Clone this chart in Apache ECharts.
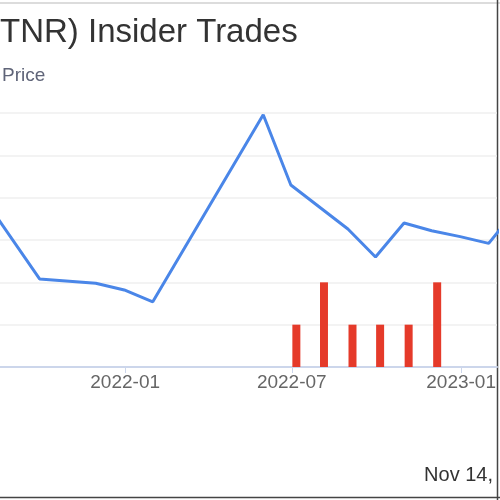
<!DOCTYPE html>
<html>
<head>
<meta charset="utf-8">
<script src="https://cdn.jsdelivr.net/npm/echarts@6/dist/echarts.min.js"></script>
<style>
  html, body { margin: 0; padding: 0; background: #fff; }
  #chart { width: 500px; height: 500px; }
</style>
</head>
<body>
<div id="chart"></div>
<script>
// ======================
// DATA
// ======================

const priceDates = [
    '2021-07-31', '2021-09-30', '2021-11-30', '2021-12-31', '2022-01-31',
    '2022-05-31', '2022-06-30', '2022-08-31', '2022-09-30', '2022-10-31',
    '2022-11-30', '2022-12-31', '2023-01-31', '2023-02-28'
];
const priceValues = [
    20.0, 10.4, 9.9, 9.1, 7.7,
    29.8, 21.5, 16.3, 13.0, 17.0,
    16.1, 15.4, 14.6, 18.4
];

const tradeDates = ['2022-07-06', '2022-08-05', '2022-09-05', '2022-10-05', '2022-11-05', '2022-12-06'];
const tradeCounts = [1, 2, 1, 1, 1, 2];

const tickDates = ['2022-01-01', '2022-07-01', '2023-01-01'];

// ======================
// CHART
// ======================

const FONT = 'Liberation Sans, Arial, sans-serif';
const chart = echarts.init(document.getElementById('chart'), null, { renderer: 'canvas' });

// dates -> timestamps (local midnight), x axis is a plain value axis
function toTime(s) {
    return new Date(s + 'T00:00:00').getTime();
}

function fmtMonth(value) {
    const d = new Date(value);
    const m = d.getMonth() + 1;
    return d.getFullYear() + '-' + (m < 10 ? '0' + m : m);
}

const tickTimes = tickDates.map(toTime);

const option = {
    backgroundColor: '#fff',
    animation: false,
    title: {
        text: 'TNR) Insider Trades',
        left: -5,
        top: 11,
        textStyle: { fontFamily: FONT, fontSize: 33, fontWeight: 'normal', color: '#333' }
    },
    legend: {
        data: ['Price'],
        left: -34,
        top: 61,
        itemWidth: 25,
        itemGap: 5,
        textStyle: { fontFamily: FONT, fontSize: 19, color: '#5f6478' }
    },
    grid: { left: 0, right: 3, top: 113, bottom: 133, containLabel: false },
    xAxis: {
        type: 'value',
        min: toTime('2021-08-18'),
        max: toTime('2023-02-09'),
        axisLine: { lineStyle: { color: '#ccd6eb', width: 2 } },
        axisTick: {
            customValues: tickTimes,
            length: 6,
            lineStyle: { color: '#ccd6eb' }
        },
        axisLabel: {
            customValues: tickTimes,
            formatter: fmtMonth,
            margin: 6,
            fontFamily: FONT,
            fontSize: 19,
            color: '#666'
        },
        splitLine: { show: false }
    },
    yAxis: [
        {
            type: 'value',
            min: 0,
            max: 30,
            interval: 5,
            axisLine: { show: false },
            axisTick: { show: false },
            axisLabel: { show: false },
            splitLine: { lineStyle: { color: '#efefef', width: 1.5 } }
        },
        {
            type: 'value',
            min: 0,
            max: 6,
            interval: 1,
            position: 'left',
            axisLine: { show: false },
            axisTick: { show: false },
            axisLabel: { show: false },
            splitLine: { show: false }
        }
    ],
    series: [
        {
            name: 'Price',
            type: 'line',
            yAxisIndex: 0,
            data: priceDates.map((d, i) => [toTime(d), priceValues[i]]),
            showSymbol: false,
            symbol: 'none',
            clip: true,
            color: '#4a86e8',
            lineStyle: { width: 3, color: '#4a86e8' },
            z: 3
        },
        {
            name: 'Trades',
            type: 'bar',
            yAxisIndex: 1,
            data: tradeDates.map((d, i) => [toTime(d), tradeCounts[i]]),
            barWidth: 8,
            itemStyle: { color: '#e53a2a' },
            z: 2
        }
    ],
    graphic: [
        {
            type: 'line',
            shape: { x1: 0, y1: 3, x2: 500, y2: 3 },
            style: { stroke: '#dcdcdc', lineWidth: 2 }
        },
        {
            type: 'line',
            shape: { x1: 497.5, y1: 0, x2: 497.5, y2: 500 },
            style: { stroke: '#444', lineWidth: 1.5 }
        },
        {
            type: 'line',
            shape: { x1: 0, y1: 497.5, x2: 500, y2: 497.5 },
            style: { stroke: '#444', lineWidth: 1.5 }
        },
        {
            type: 'text',
            right: 7,
            top: 465,
            style: { text: 'Nov 14,', fontFamily: FONT, fontSize: 20, fill: '#333' }
        }
    ]
};

chart.setOption(option);
</script>
</body>
</html>
